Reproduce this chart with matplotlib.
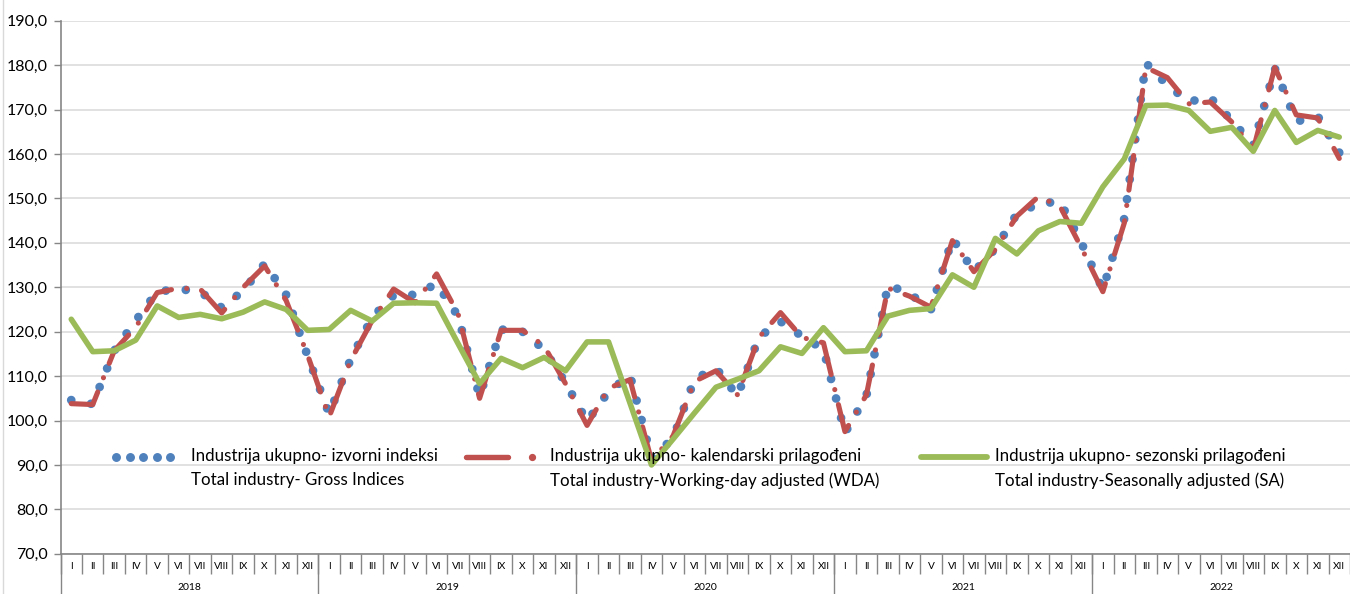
import matplotlib
matplotlib.use('Agg')
import matplotlib.pyplot as plt
import matplotlib.transforms as mtransforms
from matplotlib.lines import Line2D

months = ['I', 'II', 'III', 'IV', 'V', 'VI', 'VII', 'VIII', 'IX', 'X', 'XI', 'XII']
years = ['2018', '2019', '2020', '2021', '2022']

gross = [104.6, 103.7, 115.7, 122.5, 129.0, 129.6, 129.0, 125.4, 129.2, 135.3, 128.3, 114.5,
         101.5, 113.8, 123.2, 128.2, 128.3, 130.8, 123.5, 105.4, 120.5, 120.0, 116.0, 108.5,
         99.8, 106.5, 110.2, 91.5, 96.0, 109.3, 111.8, 105.5, 118.8, 122.3, 119.0, 116.0,
         97.2, 105.6, 130.5, 128.6, 125.0, 141.0, 133.5, 138.7, 146.5, 148.8, 149.3, 140.0,
         129.5, 145.5, 180.5, 175.5, 171.8, 172.7, 167.5, 162.0, 179.3, 167.3, 168.5, 160.3]

wda = [103.8, 103.6, 115.7, 121.0, 128.8, 129.8, 129.6, 124.2, 130.0, 134.8, 127.0, 114.7,
       100.8, 113.5, 122.5, 129.6, 126.5, 133.0, 124.0, 105.0, 120.3, 120.3, 116.8, 108.3,
       98.9, 107.3, 109.2, 91.0, 96.5, 108.8, 111.2, 105.8, 118.7, 124.3, 118.7, 117.5,
       97.5, 105.8, 129.8, 128.0, 125.5, 140.5, 133.5, 138.5, 146.0, 150.4, 148.3, 138.9,
       129.0, 144.5, 179.5, 177.2, 171.3, 171.7, 167.2, 161.0, 179.5, 168.8, 168.1, 159.0]

sa = [122.8, 115.5, 115.7, 118.1, 125.8, 123.2, 123.9, 122.9, 124.4, 126.7, 125.0, 120.3,
      120.5, 124.8, 122.4, 126.4, 126.5, 126.4, 117.3, 108.3, 114.0, 111.9, 114.2, 111.2,
      117.7, 117.7, 103.9, 90.0, 95.8, 101.7, 107.5, 109.3, 111.2, 116.6, 115.1, 120.9,
      115.5, 115.7, 123.5, 124.8, 125.2, 132.8, 130.0, 141.0, 137.5, 142.7, 144.8, 144.4,
      152.6, 158.9, 170.9, 171.0, 169.8, 165.1, 166.0, 160.6, 169.8, 162.6, 165.3, 163.8]

legend_lines = [
    ('Industrija ukupno- izvorni indeksi', 'Total industry- Gross Indices'),
    ('Industrija ukupno- kalendarski prilagođeni', 'Total industry-Working-day adjusted (WDA)'),
    ('Industrija ukupno- sezonski prilagođeni', 'Total industry-Seasonally adjusted (SA)'),
]

BLUE = '#4F81BD'
RED = '#C0504D'
GREEN = '#9BBB59'
GRID = '#D9D9D9'
AXC = '#868686'
FONT = ['Lato', 'DejaVu Sans']

plt.rcParams['font.family'] = FONT

W, H = 1350, 594
fig = plt.figure(figsize=(W / 100, H / 100), dpi=100)
x0px = 60.5
step = 21.62
ybot = 553.8
ytop = 20.7
ax = fig.add_axes([x0px / W, (H - ybot) / H, (W - x0px) / W, (ybot - ytop) / H])

n = len(gross)
labels = [months[i % 12] for i in range(n)]
xs = list(range(n))

ax.set_xlim(-0.5, -0.5 + (W - x0px) / step)
ax.set_ylim(70, 190)

# series
ax.plot(xs, gross, color=BLUE, lw=6.3, linestyle=(0, (0.001, 2.3)),
        dash_capstyle='round', solid_joinstyle='round', zorder=3)
ax.plot(xs, wda, color=RED, lw=3.7, linestyle=(0, (6.8, 3.0, 0.01, 3.0)),
        dash_capstyle='round', zorder=4)
ax.plot(xs, sa, color=GREEN, lw=4.0, solid_capstyle='round',
        solid_joinstyle='round', zorder=5)

# y axis
yt = list(range(70, 191, 10))
ax.set_yticks(yt)
ax.set_yticklabels([f'{v:.1f}'.replace('.', ',') for v in yt], fontsize=11.5, color='#000000')
ax.yaxis.grid(True, color=GRID, lw=1.1)
ax.set_axisbelow(True)
ax.tick_params(axis='y', length=5, color=AXC, width=1, pad=4)

for s in ['top', 'right']:
    ax.spines[s].set_visible(False)
for s in ['left', 'bottom']:
    ax.spines[s].set_color(AXC)
    ax.spines[s].set_linewidth(1.2)

# x axis: month labels + separators
ax.set_xticks(xs)
ax.set_xticklabels(labels, fontsize=7.3, color='#000000')
ax.tick_params(axis='x', which='major', length=0, pad=6)
ax.set_xticks([i - 0.5 for i in range(n + 1)], minor=True)
ax.tick_params(axis='x', which='minor', length=14.5, color=AXC, width=1.0)

trans = mtransforms.blended_transform_factory(ax.transData, ax.transAxes)
hax = ybot - ytop
for k in range(len(years)):
    b = k * 12 - 0.5
    ax.plot([b, b], [0, -(H - ybot) / hax], transform=trans, color=AXC, lw=1.0, clip_on=False)
    ax.text(k * 12 + 5.5, -34 / hax, years[k], transform=trans, ha='center', va='center',
            fontsize=7.5, color='#000000')

# legend (drawn in figure pixel coordinates)
def fx(px):
    return px / W

def fy(py):
    return 1 - py / H

ly = 456.5
fig.add_artist(Line2D([fx(p) for p in [116, 129.5, 143, 156.5, 170]], [fy(ly)] * 5,
                      transform=fig.transFigure, marker='o', ms=5.4, ls='none',
                      color=BLUE, mec=BLUE))
fig.add_artist(Line2D([fx(466), fx(508)], [fy(ly), fy(ly)], transform=fig.transFigure,
                      color=RED, lw=3.9, solid_capstyle='round'))
fig.add_artist(Line2D([fx(532)], [fy(ly)], transform=fig.transFigure, marker='o', ms=4.2,
                      ls='none', color=RED))
fig.add_artist(Line2D([fx(921), fx(987)], [fy(ly), fy(ly)], transform=fig.transFigure,
                      color=GREEN, lw=4.2, solid_capstyle='round'))

text_x = [191, 550, 995]
for tx, (l1, l2) in zip(text_x, legend_lines):
    fig.text(fx(tx), fy(ly), l1, ha='left', va='center', fontsize=12.2, color='#000000')
    fig.text(fx(tx), fy(ly + 24), l2, ha='left', va='center', fontsize=12.2, color='#000000')

# faint chart border on the left
fig.add_artist(Line2D([fx(2.5), fx(2.5)], [0, 1], transform=fig.transFigure, color=GRID, lw=1))

fig.savefig('out.png', dpi=100)
